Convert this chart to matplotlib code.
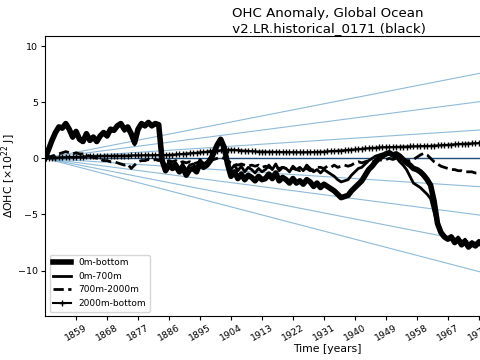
import numpy as np
from matplotlib import pyplot as plt

# years of the annual series
years = np.arange(1850, 1979)

# OHC anomaly [x10^22 J]
ohc_0_bottom = [
    0.0, 0.8, 1.6, 2.3, 2.8, 2.7, 3.1, 2.6, 1.9, 2.4,
    1.7, 1.5, 2.2, 1.6, 1.9, 1.5, 2.0, 2.3, 2.0, 2.6,
    2.5, 2.9, 3.1, 2.6, 2.8, 2.2, 1.4, 2.6, 3.1, 2.9,
    3.2, 2.9, 3.1, 3.0, -0.2, -1.1, -0.6, -0.9, -0.7, -1.2,
    -0.8, -1.5, -1.0, -0.9, -1.2, -0.4, -0.8, -0.6, -0.2, 0.5,
    1.2, 1.7, 1.0, -0.5, -1.6, -1.2, -1.8, -1.4, -1.9, -1.5,
    -1.7, -2.0, -1.6, -1.9, -1.8, -1.4, -1.8, -1.3, -2.0, -1.7,
    -1.9, -2.2, -1.8, -2.2, -2.0, -2.3, -1.9, -2.1, -2.5, -2.2,
    -2.6, -2.3, -2.5, -2.7, -2.9, -3.2, -3.5, -3.4, -3.3, -2.9,
    -2.6, -2.3, -2.0, -1.5, -1.0, -0.7, -0.3, 0.0, 0.2, 0.4,
    0.5, 0.3, 0.4, 0.2, -0.1, -0.4, -0.6, -0.9, -1.0, -1.2,
    -1.5, -1.9, -2.4, -3.8, -5.8, -6.6, -7.0, -7.2, -7.0, -7.5,
    -7.2, -7.7, -7.4, -7.9, -7.6, -7.8, -7.5, -7.7, -7.6]

ohc_0_700 = [
    0.0, 0.7, 1.5, 2.2, 2.7, 2.6, 3.0, 2.5, 1.8, 2.2,
    1.6, 1.4, 2.0, 1.5, 1.8, 1.4, 1.9, 2.2, 1.9, 2.5,
    2.4, 2.8, 3.0, 2.4, 2.6, 2.0, 1.2, 2.4, 3.0, 2.8,
    3.1, 2.8, 3.0, 2.9, -0.1, -0.8, -0.3, -0.6, -0.4, -0.9,
    -0.5, -1.1, -0.6, -0.5, -0.9, -0.1, -0.5, -0.3, 0.1, 0.6,
    1.1, 1.4, 0.7, -0.3, -1.0, -0.6, -1.1, -0.7, -1.2, -0.8,
    -1.0, -1.3, -0.9, -1.2, -1.0, -0.6, -1.0, -0.5, -1.1, -0.8,
    -0.9, -1.2, -0.7, -1.0, -0.8, -1.1, -0.6, -0.9, -1.2, -1.0,
    -1.3, -1.0, -1.2, -1.4, -1.6, -1.9, -2.1, -2.0, -1.9, -1.5,
    -1.2, -0.9, -0.8, -0.5, -0.2, 0.0, 0.2, 0.3, 0.4, 0.3,
    0.4, 0.2, 0.1, -0.3, -0.6, -1.0, -1.6, -2.2, -2.4, -2.6,
    -2.9, -3.2, -3.6, -4.8, -5.9, -6.5, -6.9, -7.1, -6.9, -7.3,
    -7.0, -7.5, -7.2, -7.7, -7.4, -7.6, -7.3, -7.5, -7.4]

ohc_700_2000 = [
    0.0, 0.1, 0.2, 0.3, 0.4, 0.5, 0.6, 0.5, 0.4, 0.5,
    0.4, 0.4, 0.3, 0.2, 0.1, 0.0, -0.1, -0.2, -0.2, -0.3,
    -0.3, -0.4, -0.5, -0.6, -0.5, -0.9, -0.6, -0.3, -0.2, -0.2,
    -0.1, -0.2, -0.1, -0.2, -0.1, -0.3, -0.2, -0.3, -0.2, -0.4,
    -0.3, -0.4, -0.3, -0.5, -0.4, -0.3, -0.4, -0.3, -0.2, -0.1,
    0.0, 0.1, 0.0, -0.2, -0.4, -0.5, -0.6, -0.5, -0.6, -0.7,
    -0.6, -0.7, -0.6, -0.8, -0.7, -0.8, -0.9, -0.8, -0.9, -0.8,
    -0.9, -1.0, -0.9, -1.0, -1.1, -1.0, -0.9, -1.1, -1.0, -0.8,
    -0.8, -0.9, -0.7, -0.8, -0.6, -0.8, -0.7, -0.6, -0.7, -0.6,
    -0.4, -0.3, -0.4, -0.3, -0.2, -0.3, -0.2, -0.1, -0.2, -0.1,
    0.0, -0.1, 0.0, -0.1, -0.2, -0.2, -0.2, -0.1, 0.1, 0.3,
    0.45, 0.3, 0.0, -0.3, -0.5, -0.7, -0.8, -0.9, -1.0, -1.0,
    -1.1, -1.1, -1.2, -1.2, -1.2, -1.3, -1.3, -1.3, -1.4]

ohc_2000_bottom = [
    0.0, 0.02, 0.04, 0.06, 0.08, 0.1, 0.1, 0.12, 0.12, 0.14,
    0.15, 0.15, 0.17, 0.18, 0.18, 0.2, 0.2, 0.21, 0.22, 0.22,
    0.23, 0.24, 0.24, 0.25, 0.25, 0.26, 0.26, 0.27, 0.27, 0.28,
    0.28, 0.28, 0.29, 0.29, 0.3, 0.3, 0.31, 0.33, 0.35, 0.37,
    0.4, 0.42, 0.45, 0.47, 0.5, 0.53, 0.56, 0.6, 0.63, 0.66,
    0.7, 0.72, 0.75, 0.76, 0.76, 0.75, 0.73, 0.7, 0.68, 0.66,
    0.64, 0.62, 0.6, 0.6, 0.59, 0.58, 0.58, 0.57, 0.57, 0.56,
    0.56, 0.55, 0.55, 0.55, 0.54, 0.54, 0.55, 0.55, 0.56, 0.57,
    0.58, 0.6, 0.62, 0.64, 0.66, 0.68, 0.7, 0.72, 0.75, 0.77,
    0.8, 0.82, 0.85, 0.88, 0.9, 0.93, 0.95, 0.97, 0.99, 1.0,
    1.0, 1.01, 1.02, 1.03, 1.04, 1.05, 1.06, 1.07, 1.08, 1.09,
    1.1, 1.1, 1.11, 1.13, 1.15, 1.17, 1.19, 1.21, 1.23, 1.25,
    1.27, 1.29, 1.3, 1.32, 1.33, 1.35, 1.37, 1.38, 1.4]

# reference trend lines (x10^22 J per year), drawn from 1850 to 2014
trend_slopes = [0.02, 0.04, 0.06, -0.02, -0.04, -0.06, -0.08]
t0, t1 = 1850, 2014

fig = plt.figure(figsize=(4.8, 3.6), dpi=100)
# the original axes run past the right edge of the picture
ax = fig.add_axes([0.094, 0.122, 1.176, 0.778])

for s in trend_slopes:
    ax.plot([t0, t1], [0, s * (t1 - t0)], color='tab:blue', alpha=0.5, lw=0.8)
ax.plot([t0, t1], [0, 0], color='#1f4e79', lw=1.0)

ax.plot(years, ohc_0_bottom, color='k', lw=4, label='0m-bottom')
ax.plot(years, ohc_0_700, color='k', lw=2, label='0m-700m')
ax.plot(years, ohc_700_2000, color='k', lw=2, ls='--', label='700m-2000m')
ax.plot(years, ohc_2000_bottom, color='k', lw=1.5, marker='+', ms=4,
        label='2000m-bottom')

ax.set_xlim(t0, t1)
ax.set_ylim(-14.05, 10.9)
ax.set_xticks(np.arange(1859, 2014, 9))
ax.set_yticks([-10, -5, 0, 5, 10])
ax.tick_params(labelsize=6.8, length=3, pad=2)
plt.setp(ax.get_xticklabels(), rotation=30)

ax.set_xlabel('Time [years]', fontsize=7.8, labelpad=1)
ax.set_ylabel(r'$\Delta$OHC [$\times 10^{22}$ J]', fontsize=7.8, labelpad=0)
ax.set_title('OHC Anomaly, Global Ocean\n v2.LR.historical_0171 (black)',
             fontsize=9.6, pad=3)
ax.legend(loc='lower left', fontsize=6.5)

fig.savefig('out.png', dpi=100)
